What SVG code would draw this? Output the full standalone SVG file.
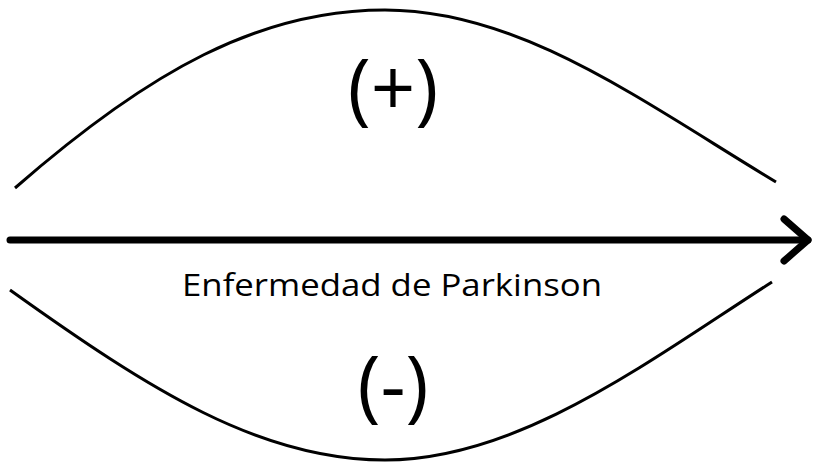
<svg xmlns="http://www.w3.org/2000/svg" width="814" height="462" viewBox="0 0 814 462">
<style>
.curve{fill:none;stroke:#000;stroke-width:3}
.axis{fill:none;stroke:#000;stroke-width:7;stroke-linecap:round;stroke-linejoin:round}
.lbl{font-family:"Open Sans","Liberation Sans",sans-serif;fill:#000}
</style>
<rect width="814" height="462" fill="#fff"/>
<g id="connectors">
<path id="top-curve" class="curve" d="M15,188 C150,70 260,10 385,10 C520,10 640,100 776,182"/>
<path id="bottom-curve" class="curve" d="M10,290 C150,390 260,460 385,460 C520,460 650,360 772,282"/>
<path id="axis-line" class="axis" d="M10,240 H808" stroke-linecap="butt"/>
<path id="axis-head" class="axis" d="M784,219 L808,240 L784,261"/>
</g>
<g id="label-axis"><text class="lbl" x="392" y="296" font-size="31" text-anchor="middle" textLength="420" lengthAdjust="spacingAndGlyphs">Enfermedad de Parkinson</text></g>
<g id="label-plus"><text class="lbl" x="393" y="116" font-size="78" text-anchor="middle">(+)</text></g>
<g id="label-minus"><text class="lbl" x="393" y="413" font-size="78" text-anchor="middle">(-)</text></g>
</svg>
